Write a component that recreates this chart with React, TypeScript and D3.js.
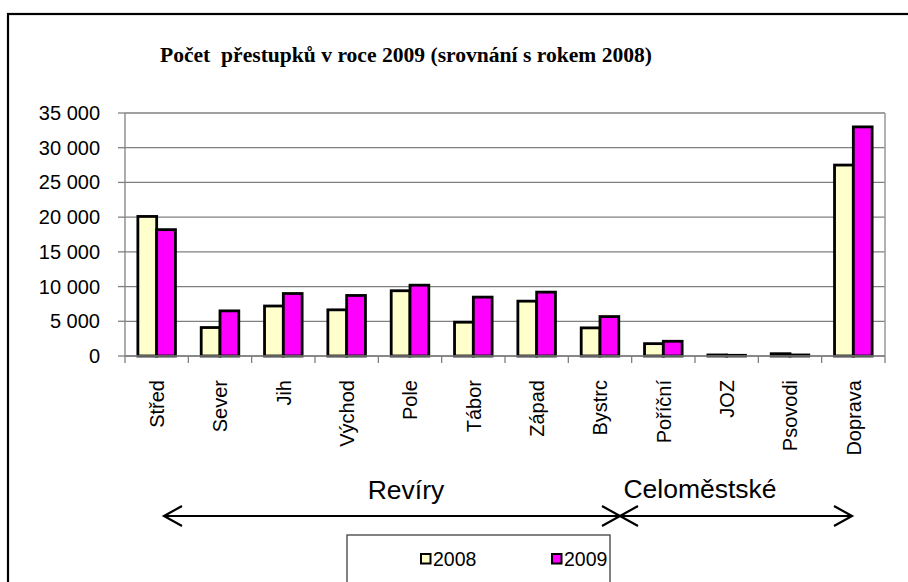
import React from "react";
import * as d3 from "d3";

const categories = ["Střed", "Sever", "Jih", "Východ", "Pole", "Tábor", "Západ", "Bystrc", "Poříční", "JOZ", "Psovodi", "Doprava"];
const series2008 = [20100, 4100, 7200, 6650, 9400, 4870, 7900, 4050, 1780, 150, 330, 27500];
const series2009 = [18200, 6500, 9000, 8720, 10200, 8480, 9200, 5680, 2120, 100, 150, 33000];
const seriesNames = ["2008", "2009"];
const seriesColors = ["#FFFFCC", "#FF00FF"];
const yTicks = [0, 5000, 10000, 15000, 20000, 25000, 30000, 35000];
const title = "Počet  přestupků v roce 2009 (srovnání s rokem 2008)";
const groupLabels = ["Revíry", "Celoměstské"];

const W = 908, H = 582;
const plot = { left: 125, right: 885, top: 113, bottom: 356 };

export default function App() {
  const x = d3.scaleBand<string>().domain(categories).range([plot.left, plot.right]).paddingInner(0).paddingOuter(0);
  const inner = d3.scaleBand<string>().domain(seriesNames).range([0, x.bandwidth()]).paddingOuter(0.685).paddingInner(0);
  const y = d3.scaleLinear().domain([0, 35000]).range([plot.bottom, plot.top]);
  const fmt = (v: number) => d3.format(",")(v).replace(/,/g, " ");
  const data = [series2008, series2009];
  const arrowY = 516;
  const sans = "'Liberation Sans', Arial, sans-serif";

  const arrowHead = (tx: number, dir: number, key: string) => (
    <path key={key} d={`M${tx - dir * 18},${arrowY - 10} L${tx},${arrowY} L${tx - dir * 18},${arrowY + 10}`} fill="none" stroke="#000" strokeWidth={2.2} />
  );

  return (
    <svg width={W} height={H} style={{ position: "absolute", left: 0, top: 0, background: "#fff" }}>
      <rect x={0} y={0} width={W} height={H} fill="#fff" />
      {/* outer chart border */}
      <rect x={8} y={14} width={W + 20} height={H + 20} fill="none" stroke="#000" strokeWidth={2.2} />
      {/* title */}
      <text x={406} y={62} textAnchor="middle" fontFamily="'Liberation Serif', 'Times New Roman', serif" fontWeight="bold" fontSize={20} textLength={492} lengthAdjust="spacingAndGlyphs" style={{ whiteSpace: "pre" }}>{title}</text>
      {/* gridlines */}
      {yTicks.map((t) => (
        <line key={"g" + t} x1={plot.left} x2={plot.right} y1={y(t)} y2={y(t)} stroke="#808080" strokeWidth={1.3} />
      ))}
      <line x1={plot.right} x2={plot.right} y1={plot.top} y2={plot.bottom} stroke="#999" strokeWidth={1.5} />
      {/* y axis */}
      <line x1={plot.left} x2={plot.left} y1={plot.top} y2={plot.bottom} stroke="#808080" strokeWidth={1.3} />
      {yTicks.map((t) => (
        <g key={"yt" + t}>
          <line x1={plot.left - 7} x2={plot.left} y1={y(t)} y2={y(t)} stroke="#808080" strokeWidth={1.3} />
          <text x={100} y={y(t)} dy="0.35em" textAnchor="end" fontFamily={sans} fontSize={20} fill="#000">{fmt(t)}</text>
        </g>
      ))}
      {/* x ticks */}
      {categories.concat(["end"]).map((c, i) => {
        const xx = plot.left + i * x.bandwidth();
        return <line key={"xt" + i} x1={xx} x2={xx} y1={plot.bottom} y2={plot.bottom + 7} stroke="#808080" strokeWidth={1.3} />;
      })}
      {/* bars */}
      {categories.map((c, i) => (
        <g key={"b" + c}>
          {data.map((s, j) => (
            <rect key={j} x={(x(c) as number) + (inner(seriesNames[j]) as number)} y={y(s[i])} width={inner.bandwidth()} height={plot.bottom - y(s[i])} fill={seriesColors[j]} stroke="#000" strokeWidth={2.8} />
          ))}
        </g>
      ))}
      <line x1={plot.left} x2={plot.right} y1={plot.bottom} y2={plot.bottom} stroke="#808080" strokeWidth={1.3} />
      {/* category labels */}
      {categories.map((c) => {
        const cx = (x(c) as number) + x.bandwidth() / 2;
        return (
          <text key={"cl" + c} transform={`translate(${cx},380) rotate(-90)`} textAnchor="end" dy="0.36em" fontFamily={sans} fontSize={20} fill="#000">{c}</text>
        );
      })}
      {/* group annotations */}
      <text x={406} y={499} textAnchor="middle" fontFamily={sans} fontSize={26.5} fill="#000">{groupLabels[0]}</text>
      <text x={700} y={498} textAnchor="middle" fontFamily={sans} fontSize={26.5} fill="#000">{groupLabels[1]}</text>
      <line x1={164} x2={620} y1={arrowY} y2={arrowY} stroke="#000" strokeWidth={2.2} />
      <line x1={620} x2={852} y1={arrowY} y2={arrowY} stroke="#000" strokeWidth={2.2} />
      {arrowHead(164, -1, "a1")}
      {arrowHead(620, 1, "a2")}
      {arrowHead(620, -1, "a3")}
      {arrowHead(852, 1, "a4")}
      {/* legend */}
      <rect x={347} y={535} width={263} height={60} fill="#fff" stroke="#404040" strokeWidth={1.3} />
      {seriesNames.map((n, j) => {
        const lx = j === 0 ? 421 : 552;
        return (
          <g key={"l" + n}>
            <rect x={lx} y={554} width={9.5} height={9.5} fill={seriesColors[j]} stroke="#000" strokeWidth={2} />
            <text x={lx + 12} y={566} fontFamily={sans} fontSize={19.5} fill="#000">{n}</text>
          </g>
        );
      })}
    </svg>
  );
}
